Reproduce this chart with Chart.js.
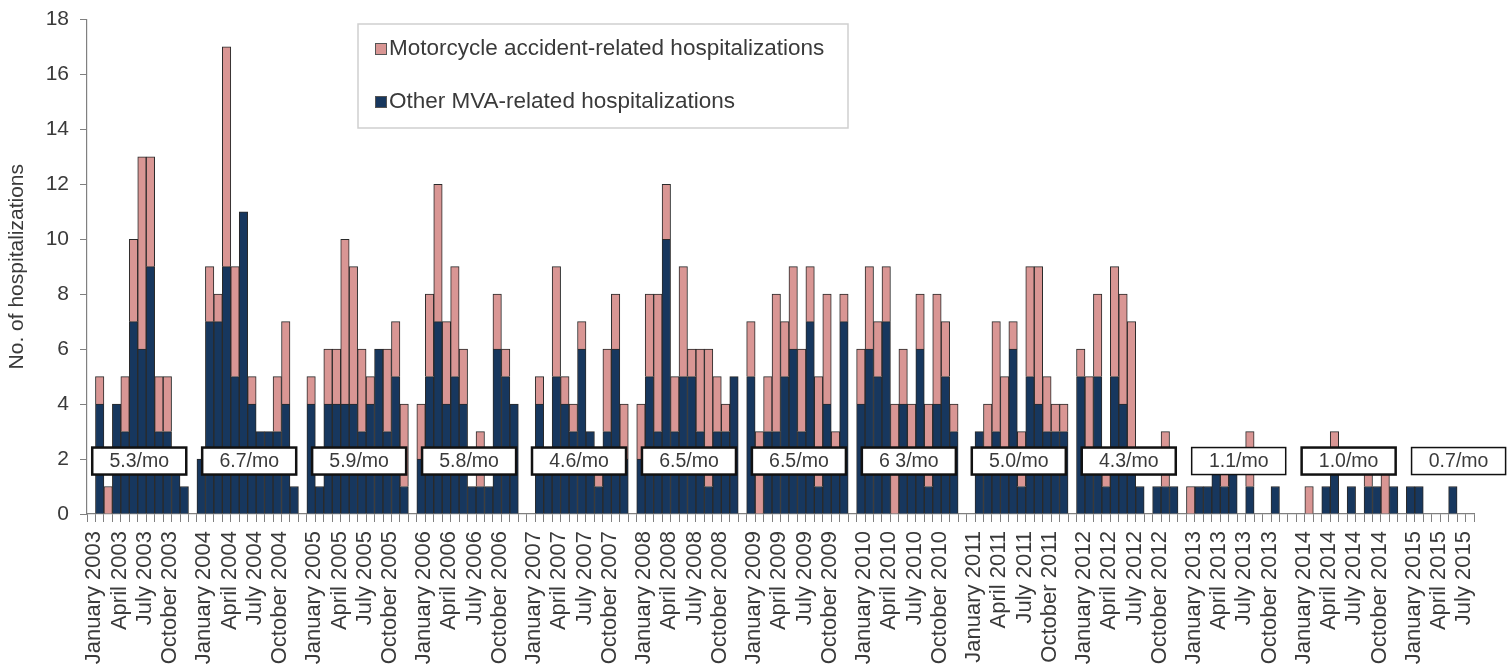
<!DOCTYPE html>
<html>
<head>
<meta charset="utf-8">
<title>MVA-related hospitalizations by month</title>
<script src="https://cdn.jsdelivr.net/npm/chart.js@4.4.0/dist/chart.umd.min.js"></script>
<style>
  html, body { margin: 0; padding: 0; background: #ffffff; }
  #wrap { width: 1509px; height: 668px; }
</style>
</head>
<body>
<div id="wrap"><canvas id="chart" width="1509" height="668"></canvas></div>
<script>
// Years shown on the axis, one block of months per year (2015 is partial)
const years = [2003, 2004, 2005, 2006, 2007, 2008, 2009, 2010, 2011, 2012, 2013, 2014, 2015];
const monthNames = ['January', 'February', 'March', 'April', 'May', 'June',
  'July', 'August', 'September', 'October', 'November', 'December'];
// Only these months get a tick label
const labelledMonths = ['January', 'April', 'July', 'October'];

// Other MVA-related hospitalizations per month (dark blue, bottom of stack)
const otherByYear = [
  [0, 4, 0, 4, 3, 7, 6, 9, 3, 3, 2, 1],
  [2, 7, 7, 9, 5, 11, 4, 3, 3, 3, 4, 1],
  [4, 1, 4, 4, 4, 4, 3, 4, 6, 3, 5, 1],
  [2, 5, 7, 4, 5, 4, 1, 1, 1, 6, 5, 4],
  [0, 4, 2, 5, 4, 3, 6, 3, 1, 3, 6, 2],
  [2, 5, 3, 10, 3, 5, 5, 3, 1, 3, 3, 5],
  [5, 0, 3, 3, 5, 6, 3, 7, 1, 4, 2, 7],
  [4, 6, 5, 7, 0, 4, 2, 6, 1, 4, 5, 3],
  [0, 3, 2, 3, 2, 6, 1, 5, 4, 3, 3, 3],
  [5, 2, 5, 1, 5, 4, 2, 1, 0, 1, 1, 1],
  [0, 1, 1, 2, 1, 2, 0, 1, 0, 0, 1, 0],
  [0, 0, 0, 1, 2, 0, 1, 0, 1, 1, 0, 1],
  [1, 1, 0, 0, 0, 1, 0]
];

// Motorcycle accident-related hospitalizations per month (pink, top of stack)
const motoByYear = [
  [0, 1, 1, 0, 2, 3, 7, 4, 2, 2, 0, 0],
  [0, 2, 1, 8, 4, 0, 1, 0, 0, 2, 3, 0],
  [1, 0, 2, 2, 6, 5, 3, 1, 0, 3, 2, 3],
  [2, 3, 5, 3, 4, 2, 0, 2, 0, 2, 1, 0],
  [0, 1, 0, 4, 1, 1, 1, 0, 1, 3, 2, 2],
  [2, 3, 5, 2, 2, 4, 1, 3, 5, 2, 1, 0],
  [2, 3, 2, 5, 2, 3, 3, 2, 4, 4, 1, 1],
  [2, 3, 2, 2, 4, 2, 2, 2, 3, 4, 2, 1],
  [0, 0, 2, 4, 3, 1, 2, 4, 5, 2, 1, 1],
  [1, 3, 3, 1, 4, 4, 5, 0, 0, 0, 2, 0],
  [1, 0, 0, 0, 1, 0, 0, 2, 0, 0, 0, 0],
  [0, 1, 0, 0, 1, 0, 0, 0, 1, 0, 2, 0],
  [0, 0, 0, 0, 0, 0, 0]
];

// Average per month, boxed over each year
const rateLabels = ['5.3/mo', '6.7/mo', '5.9/mo', '5.8/mo', '4.6/mo', '6.5/mo', '6.5/mo',
  '6 3/mo', '5.0/mo', '4.3/mo', '1.1/mo', '1.0/mo', '0.7/mo'];

const PINK = '#d99694';
const NAVY = '#17375e';
const EDGE = '#2a2a2a';
const TEXT = '#3a3a3a';
const AXIS = '#808080';
const FONT = '"Liberation Sans", Arial, sans-serif';

// Build the category axis: 12 months per year followed by one empty slot
const categoryLabels = [];
const otherSeries = [];
const motoSeries = [];
const yearStart = [];
years.forEach((year, i) => {
  yearStart.push(categoryLabels.length);
  otherByYear[i].forEach((v, m) => {
    categoryLabels.push(monthNames[m] + ' ' + year);
    otherSeries.push(v || null);
    motoSeries.push(motoByYear[i][m] || null);
  });
  categoryLabels.push('');
  otherSeries.push(null);
  motoSeries.push(null);
});

// Draws the "x.x/mo" boxes across each year block
const rateBoxes = {
  id: 'rateBoxes',
  afterDatasetsDraw(chart) {
    const ctx = chart.ctx;
    const xs = chart.scales.x;
    const ys = chart.scales.y;
    const cy = ys.getPixelForValue(2) + 2;
    const h = 27;
    ctx.save();
    rateLabels.forEach((txt, i) => {
      const left = xs.getPixelForValue(yearStart[i]) + 1;
      const right = xs.getPixelForValue(yearStart[i] + 11) + 2;
      ctx.fillStyle = '#ffffff';
      ctx.fillRect(left, cy - h / 2, right - left, h);
      ctx.strokeStyle = '#111111';
      ctx.lineWidth = (i === 10 || i === 12) ? 1.5 : 2.5;
      ctx.strokeRect(left, cy - h / 2, right - left, h);
      ctx.fillStyle = TEXT;
      ctx.font = '19.5px ' + FONT;
      ctx.textAlign = 'center';
      ctx.textBaseline = 'middle';
      ctx.fillText(txt, (left + right) / 2, cy + 1);
    });
    ctx.restore();
  }
};

// Legend box sitting inside the plot area, top middle
const insideLegend = {
  id: 'insideLegend',
  afterDraw(chart) {
    const ctx = chart.ctx;
    const items = [
      { color: PINK, text: 'Motorcycle accident-related hospitalizations', y: 49 },
      { color: NAVY, text: 'Other MVA-related hospitalizations', y: 102 }
    ];
    ctx.save();
    ctx.fillStyle = '#ffffff';
    ctx.fillRect(358, 24, 490, 104);
    ctx.strokeStyle = '#cfcfcf';
    ctx.lineWidth = 1.5;
    ctx.strokeRect(358, 24, 490, 104);
    ctx.font = '22.5px ' + FONT;
    ctx.textBaseline = 'middle';
    ctx.textAlign = 'left';
    items.forEach(it => {
      ctx.fillStyle = it.color;
      ctx.fillRect(375, it.y - 6, 12, 12);
      ctx.strokeStyle = '#555555';
      ctx.lineWidth = 1;
      ctx.strokeRect(375.5, it.y - 5.5, 11, 11);
      ctx.fillStyle = TEXT;
      ctx.fillText(it.text, 389, it.y);
    });
    ctx.restore();
  }
};

new Chart(document.getElementById('chart'), {
  type: 'bar',
  data: {
    labels: categoryLabels,
    datasets: [
      {
        label: 'Other MVA-related hospitalizations',
        data: otherSeries,
        backgroundColor: NAVY,
        borderColor: EDGE,
        borderWidth: 1,
        barPercentage: 1,
        categoryPercentage: 1
      },
      {
        label: 'Motorcycle accident-related hospitalizations',
        data: motoSeries,
        backgroundColor: PINK,
        borderColor: EDGE,
        borderWidth: 1,
        barPercentage: 1,
        categoryPercentage: 1
      }
    ]
  },
  options: {
    responsive: false,
    devicePixelRatio: 1,
    animation: false,
    layout: { padding: { top: 18, right: 35, left: 0, bottom: 0 } },
    plugins: {
      legend: { display: false },
      tooltip: { enabled: false }
    },
    scales: {
      x: {
        stacked: true,
        offset: true,
        grid: {
          display: true,
          drawOnChartArea: false,
          offset: true,
          tickLength: 8,
          color: AXIS
        },
        border: { display: true, color: AXIS, width: 1.2 },
        ticks: {
          autoSkip: false,
          maxRotation: 90,
          minRotation: 90,
          padding: 9,
          labelOffset: 3,
          color: TEXT,
          font: { family: FONT, size: 22 },
          callback(value) {
            const lab = this.getLabelForValue(value);
            const month = lab.split(' ')[0];
            return labelledMonths.includes(month) ? lab : '';
          }
        },
        afterFit(scale) { scale.height = 154; }
      },
      y: {
        stacked: true,
        min: 0,
        max: 18,
        ticks: {
          stepSize: 2,
          padding: 11,
          color: TEXT,
          font: { family: FONT, size: 21, lineHeight: 0.8 }
        },
        grid: {
          drawOnChartArea: false,
          tickLength: 7,
          color: AXIS
        },
        border: { display: true, color: AXIS, width: 1.2 },
        title: {
          display: true,
          text: 'No. of hospitalizations',
          color: TEXT,
          font: { family: FONT, size: 21 },
          padding: { top: 5, bottom: 0 }
        },
        afterFit(scale) { scale.width = 87; }
      }
    }
  },
  plugins: [rateBoxes, insideLegend]
});
</script>
</body>
</html>
